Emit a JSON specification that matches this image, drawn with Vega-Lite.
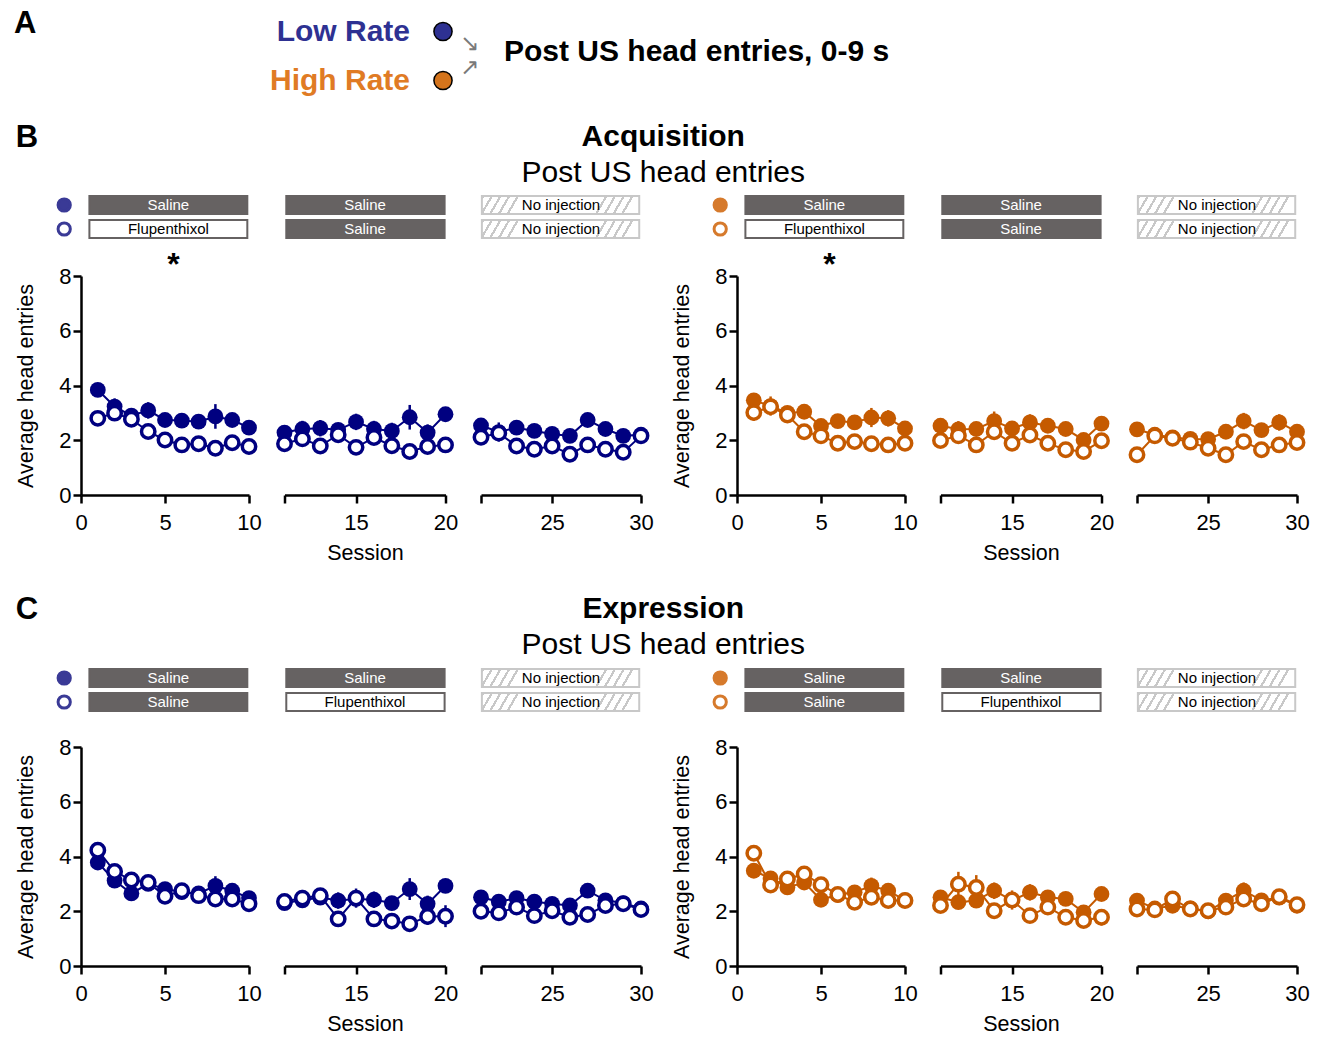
{
"$schema": "https://vega.github.io/schema/vega-lite/v6.json",
"padding": {"left": 14, "top": 7, "right": 5, "bottom": 0},
"background": "white",
"config": {
 "font": "Liberation Sans",
 "view": {"stroke": null},
 "axis": {"domainColor": "black", "domainWidth": 2.5, "tickColor": "black", "tickWidth": 2.5, "tickSize": 8, "labelFontSize": 22, "labelColor": "black", "titleFontSize": 21.5, "titleFontWeight": "normal", "titleColor": "black", "grid": false, "labelFlush": false, "labelOverlap": false},
 "axisX": {"labelPadding": 9, "titlePadding": 9},
 "axisY": {"labelPadding": 2, "titlePadding": 21},
 "title": {"color": "black", "subtitleColor": "black", "subtitleFont": "Liberation Sans"}
},
"datasets": {
 "rates": [{"rate": "Low Rate"}, {"rate": "High Rate"}],
 "boxes": [
  {"phase":"Acquisition","col":1,"row":"top","trt":"Saline"},
  {"phase":"Acquisition","col":1,"row":"bottom","trt":"Flupenthixol"},
  {"phase":"Acquisition","col":2,"row":"top","trt":"Saline"},
  {"phase":"Acquisition","col":2,"row":"bottom","trt":"Saline"},
  {"phase":"Acquisition","col":3,"row":"top","trt":"No injection"},
  {"phase":"Acquisition","col":3,"row":"bottom","trt":"No injection"},
  {"phase":"Expression","col":1,"row":"top","trt":"Saline"},
  {"phase":"Expression","col":1,"row":"bottom","trt":"Saline"},
  {"phase":"Expression","col":2,"row":"top","trt":"Saline"},
  {"phase":"Expression","col":2,"row":"bottom","trt":"Flupenthixol"},
  {"phase":"Expression","col":3,"row":"top","trt":"No injection"},
  {"phase":"Expression","col":3,"row":"bottom","trt":"No injection"}
 ],
 "sig": [{"phase":"Acquisition","col":1,"row":"star","label":"*"}],
 "acqLow": [
  {"group":"filled","session":1,"mean":3.84,"sem":0.2},{"group":"filled","session":2,"mean":3.23,"sem":0.3},{"group":"filled","session":3,"mean":2.9,"sem":0.2},{"group":"filled","session":4,"mean":3.09,"sem":0.3},{"group":"filled","session":5,"mean":2.74,"sem":0.2},{"group":"filled","session":6,"mean":2.72,"sem":0.2},{"group":"filled","session":7,"mean":2.68,"sem":0.25},{"group":"filled","session":8,"mean":2.87,"sem":0.45},{"group":"filled","session":9,"mean":2.74,"sem":0.25},{"group":"filled","session":10,"mean":2.46,"sem":0.2},
  {"group":"filled","session":11,"mean":2.28,"sem":0.2},{"group":"filled","session":12,"mean":2.41,"sem":0.3},{"group":"filled","session":13,"mean":2.44,"sem":0.3},{"group":"filled","session":14,"mean":2.38,"sem":0.25},{"group":"filled","session":15,"mean":2.67,"sem":0.3},{"group":"filled","session":16,"mean":2.41,"sem":0.3},{"group":"filled","session":17,"mean":2.34,"sem":0.3},{"group":"filled","session":18,"mean":2.84,"sem":0.45},{"group":"filled","session":19,"mean":2.28,"sem":0.3},{"group":"filled","session":20,"mean":2.95,"sem":0.2},
  {"group":"filled","session":21,"mean":2.54,"sem":0.2},{"group":"filled","session":22,"mean":2.3,"sem":0.35},{"group":"filled","session":23,"mean":2.46,"sem":0.2},{"group":"filled","session":24,"mean":2.34,"sem":0.2},{"group":"filled","session":25,"mean":2.23,"sem":0.25},{"group":"filled","session":26,"mean":2.16,"sem":0.2},{"group":"filled","session":27,"mean":2.74,"sem":0.2},{"group":"filled","session":28,"mean":2.41,"sem":0.2},{"group":"filled","session":29,"mean":2.16,"sem":0.2},{"group":"filled","session":30,"mean":2.2,"sem":0.2},
  {"group":"open","session":1,"mean":2.8,"sem":0.2},{"group":"open","session":2,"mean":2.99,"sem":0.2},{"group":"open","session":3,"mean":2.77,"sem":0.2},{"group":"open","session":4,"mean":2.32,"sem":0.2},{"group":"open","session":5,"mean":2.01,"sem":0.25},{"group":"open","session":6,"mean":1.83,"sem":0.2},{"group":"open","session":7,"mean":1.87,"sem":0.25},{"group":"open","session":8,"mean":1.71,"sem":0.2},{"group":"open","session":9,"mean":1.91,"sem":0.2},{"group":"open","session":10,"mean":1.77,"sem":0.2},
  {"group":"open","session":11,"mean":1.87,"sem":0.2},{"group":"open","session":12,"mean":2.05,"sem":0.2},{"group":"open","session":13,"mean":1.79,"sem":0.2},{"group":"open","session":14,"mean":2.2,"sem":0.2},{"group":"open","session":15,"mean":1.74,"sem":0.2},{"group":"open","session":16,"mean":2.1,"sem":0.2},{"group":"open","session":17,"mean":1.8,"sem":0.2},{"group":"open","session":18,"mean":1.59,"sem":0.2},{"group":"open","session":19,"mean":1.77,"sem":0.2},{"group":"open","session":20,"mean":1.83,"sem":0.2},
  {"group":"open","session":21,"mean":2.11,"sem":0.25},{"group":"open","session":22,"mean":2.26,"sem":0.2},{"group":"open","session":23,"mean":1.79,"sem":0.2},{"group":"open","session":24,"mean":1.67,"sem":0.2},{"group":"open","session":25,"mean":1.79,"sem":0.2},{"group":"open","session":26,"mean":1.49,"sem":0.2},{"group":"open","session":27,"mean":1.83,"sem":0.2},{"group":"open","session":28,"mean":1.67,"sem":0.2},{"group":"open","session":29,"mean":1.56,"sem":0.2},{"group":"open","session":30,"mean":2.16,"sem":0.25}
 ],
 "acqHigh": [
  {"group":"filled","session":1,"mean":3.46,"sem":0.2},{"group":"filled","session":2,"mean":3.25,"sem":0.35},{"group":"filled","session":3,"mean":3.0,"sem":0.2},{"group":"filled","session":4,"mean":3.04,"sem":0.2},{"group":"filled","session":5,"mean":2.52,"sem":0.2},{"group":"filled","session":6,"mean":2.7,"sem":0.25},{"group":"filled","session":7,"mean":2.65,"sem":0.25},{"group":"filled","session":8,"mean":2.83,"sem":0.35},{"group":"filled","session":9,"mean":2.8,"sem":0.3},{"group":"filled","session":10,"mean":2.43,"sem":0.2},
  {"group":"filled","session":11,"mean":2.53,"sem":0.25},{"group":"filled","session":12,"mean":2.4,"sem":0.3},{"group":"filled","session":13,"mean":2.41,"sem":0.2},{"group":"filled","session":14,"mean":2.7,"sem":0.35},{"group":"filled","session":15,"mean":2.43,"sem":0.25},{"group":"filled","session":16,"mean":2.65,"sem":0.3},{"group":"filled","session":17,"mean":2.53,"sem":0.2},{"group":"filled","session":18,"mean":2.41,"sem":0.2},{"group":"filled","session":19,"mean":2.01,"sem":0.2},{"group":"filled","session":20,"mean":2.61,"sem":0.2},
  {"group":"filled","session":21,"mean":2.4,"sem":0.2},{"group":"filled","session":22,"mean":2.2,"sem":0.2},{"group":"filled","session":23,"mean":2.1,"sem":0.2},{"group":"filled","session":24,"mean":2.05,"sem":0.2},{"group":"filled","session":25,"mean":2.04,"sem":0.25},{"group":"filled","session":26,"mean":2.31,"sem":0.25},{"group":"filled","session":27,"mean":2.7,"sem":0.3},{"group":"filled","session":28,"mean":2.37,"sem":0.2},{"group":"filled","session":29,"mean":2.65,"sem":0.3},{"group":"filled","session":30,"mean":2.31,"sem":0.2},
  {"group":"open","session":1,"mean":3.01,"sem":0.3},{"group":"open","session":2,"mean":3.22,"sem":0.2},{"group":"open","session":3,"mean":2.92,"sem":0.2},{"group":"open","session":4,"mean":2.31,"sem":0.2},{"group":"open","session":5,"mean":2.16,"sem":0.2},{"group":"open","session":6,"mean":1.89,"sem":0.2},{"group":"open","session":7,"mean":1.95,"sem":0.2},{"group":"open","session":8,"mean":1.87,"sem":0.2},{"group":"open","session":9,"mean":1.83,"sem":0.2},{"group":"open","session":10,"mean":1.89,"sem":0.2},
  {"group":"open","session":11,"mean":1.99,"sem":0.2},{"group":"open","session":12,"mean":2.16,"sem":0.2},{"group":"open","session":13,"mean":1.83,"sem":0.25},{"group":"open","session":14,"mean":2.31,"sem":0.2},{"group":"open","session":15,"mean":1.89,"sem":0.2},{"group":"open","session":16,"mean":2.19,"sem":0.2},{"group":"open","session":17,"mean":1.89,"sem":0.2},{"group":"open","session":18,"mean":1.65,"sem":0.2},{"group":"open","session":19,"mean":1.59,"sem":0.2},{"group":"open","session":20,"mean":1.98,"sem":0.2},
  {"group":"open","session":21,"mean":1.47,"sem":0.2},{"group":"open","session":22,"mean":2.16,"sem":0.2},{"group":"open","session":23,"mean":2.07,"sem":0.2},{"group":"open","session":24,"mean":1.93,"sem":0.2},{"group":"open","session":25,"mean":1.71,"sem":0.2},{"group":"open","session":26,"mean":1.47,"sem":0.2},{"group":"open","session":27,"mean":1.95,"sem":0.2},{"group":"open","session":28,"mean":1.65,"sem":0.2},{"group":"open","session":29,"mean":1.83,"sem":0.2},{"group":"open","session":30,"mean":1.92,"sem":0.2}
 ],
 "expLow": [
  {"group":"filled","session":1,"mean":3.78,"sem":0.2},{"group":"filled","session":2,"mean":3.12,"sem":0.2},{"group":"filled","session":3,"mean":2.65,"sem":0.2},{"group":"filled","session":4,"mean":3.0,"sem":0.2},{"group":"filled","session":5,"mean":2.81,"sem":0.2},{"group":"filled","session":6,"mean":2.7,"sem":0.2},{"group":"filled","session":7,"mean":2.65,"sem":0.2},{"group":"filled","session":8,"mean":2.93,"sem":0.35},{"group":"filled","session":9,"mean":2.75,"sem":0.25},{"group":"filled","session":10,"mean":2.48,"sem":0.25},
  {"group":"filled","session":11,"mean":2.3,"sem":0.2},{"group":"filled","session":12,"mean":2.4,"sem":0.2},{"group":"filled","session":13,"mean":2.5,"sem":0.2},{"group":"filled","session":14,"mean":2.39,"sem":0.3},{"group":"filled","session":15,"mean":2.45,"sem":0.2},{"group":"filled","session":16,"mean":2.42,"sem":0.3},{"group":"filled","session":17,"mean":2.3,"sem":0.25},{"group":"filled","session":18,"mean":2.81,"sem":0.4},{"group":"filled","session":19,"mean":2.27,"sem":0.3},{"group":"filled","session":20,"mean":2.93,"sem":0.2},
  {"group":"filled","session":21,"mean":2.51,"sem":0.2},{"group":"filled","session":22,"mean":2.35,"sem":0.2},{"group":"filled","session":23,"mean":2.48,"sem":0.2},{"group":"filled","session":24,"mean":2.35,"sem":0.2},{"group":"filled","session":25,"mean":2.27,"sem":0.2},{"group":"filled","session":26,"mean":2.21,"sem":0.2},{"group":"filled","session":27,"mean":2.75,"sem":0.2},{"group":"filled","session":28,"mean":2.4,"sem":0.2},{"group":"filled","session":29,"mean":2.3,"sem":0.2},{"group":"filled","session":30,"mean":2.1,"sem":0.2},
  {"group":"open","session":1,"mean":4.23,"sem":0.2},{"group":"open","session":2,"mean":3.45,"sem":0.2},{"group":"open","session":3,"mean":3.14,"sem":0.2},{"group":"open","session":4,"mean":3.05,"sem":0.25},{"group":"open","session":5,"mean":2.55,"sem":0.2},{"group":"open","session":6,"mean":2.75,"sem":0.2},{"group":"open","session":7,"mean":2.57,"sem":0.2},{"group":"open","session":8,"mean":2.45,"sem":0.2},{"group":"open","session":9,"mean":2.45,"sem":0.2},{"group":"open","session":10,"mean":2.27,"sem":0.2},
  {"group":"open","session":11,"mean":2.36,"sem":0.2},{"group":"open","session":12,"mean":2.48,"sem":0.3},{"group":"open","session":13,"mean":2.57,"sem":0.25},{"group":"open","session":14,"mean":1.72,"sem":0.2},{"group":"open","session":15,"mean":2.48,"sem":0.35},{"group":"open","session":16,"mean":1.72,"sem":0.2},{"group":"open","session":17,"mean":1.64,"sem":0.2},{"group":"open","session":18,"mean":1.54,"sem":0.2},{"group":"open","session":19,"mean":1.81,"sem":0.3},{"group":"open","session":20,"mean":1.82,"sem":0.4},
  {"group":"open","session":21,"mean":2.0,"sem":0.2},{"group":"open","session":22,"mean":1.94,"sem":0.2},{"group":"open","session":23,"mean":2.15,"sem":0.2},{"group":"open","session":24,"mean":1.84,"sem":0.2},{"group":"open","session":25,"mean":2.02,"sem":0.3},{"group":"open","session":26,"mean":1.78,"sem":0.2},{"group":"open","session":27,"mean":1.88,"sem":0.2},{"group":"open","session":28,"mean":2.21,"sem":0.2},{"group":"open","session":29,"mean":2.27,"sem":0.25},{"group":"open","session":30,"mean":2.06,"sem":0.2}
 ],
 "expHigh": [
  {"group":"filled","session":1,"mean":3.48,"sem":0.2},{"group":"filled","session":2,"mean":3.2,"sem":0.25},{"group":"filled","session":3,"mean":2.87,"sem":0.2},{"group":"filled","session":4,"mean":3.05,"sem":0.2},{"group":"filled","session":5,"mean":2.42,"sem":0.2},{"group":"filled","session":6,"mean":2.6,"sem":0.2},{"group":"filled","session":7,"mean":2.69,"sem":0.2},{"group":"filled","session":8,"mean":2.93,"sem":0.3},{"group":"filled","session":9,"mean":2.75,"sem":0.25},{"group":"filled","session":10,"mean":2.4,"sem":0.2},
  {"group":"filled","session":11,"mean":2.51,"sem":0.2},{"group":"filled","session":12,"mean":2.33,"sem":0.25},{"group":"filled","session":13,"mean":2.39,"sem":0.2},{"group":"filled","session":14,"mean":2.75,"sem":0.3},{"group":"filled","session":15,"mean":2.4,"sem":0.2},{"group":"filled","session":16,"mean":2.69,"sem":0.3},{"group":"filled","session":17,"mean":2.51,"sem":0.25},{"group":"filled","session":18,"mean":2.45,"sem":0.2},{"group":"filled","session":19,"mean":1.96,"sem":0.2},{"group":"filled","session":20,"mean":2.63,"sem":0.2},
  {"group":"filled","session":21,"mean":2.39,"sem":0.2},{"group":"filled","session":22,"mean":2.1,"sem":0.2},{"group":"filled","session":23,"mean":2.2,"sem":0.2},{"group":"filled","session":24,"mean":2.1,"sem":0.2},{"group":"filled","session":25,"mean":2.0,"sem":0.2},{"group":"filled","session":26,"mean":2.39,"sem":0.2},{"group":"filled","session":27,"mean":2.75,"sem":0.3},{"group":"filled","session":28,"mean":2.4,"sem":0.2},{"group":"filled","session":29,"mean":2.5,"sem":0.25},{"group":"filled","session":30,"mean":2.2,"sem":0.2},
  {"group":"open","session":1,"mean":4.12,"sem":0.2},{"group":"open","session":2,"mean":2.96,"sem":0.2},{"group":"open","session":3,"mean":3.18,"sem":0.2},{"group":"open","session":4,"mean":3.36,"sem":0.2},{"group":"open","session":5,"mean":2.97,"sem":0.2},{"group":"open","session":6,"mean":2.61,"sem":0.2},{"group":"open","session":7,"mean":2.33,"sem":0.2},{"group":"open","session":8,"mean":2.51,"sem":0.2},{"group":"open","session":9,"mean":2.39,"sem":0.2},{"group":"open","session":10,"mean":2.39,"sem":0.2},
  {"group":"open","session":11,"mean":2.21,"sem":0.2},{"group":"open","session":12,"mean":2.99,"sem":0.45},{"group":"open","session":13,"mean":2.87,"sem":0.45},{"group":"open","session":14,"mean":2.02,"sem":0.2},{"group":"open","session":15,"mean":2.41,"sem":0.35},{"group":"open","session":16,"mean":1.84,"sem":0.2},{"group":"open","session":17,"mean":2.15,"sem":0.25},{"group":"open","session":18,"mean":1.78,"sem":0.2},{"group":"open","session":19,"mean":1.66,"sem":0.2},{"group":"open","session":20,"mean":1.78,"sem":0.3},
  {"group":"open","session":21,"mean":2.08,"sem":0.2},{"group":"open","session":22,"mean":2.05,"sem":0.2},{"group":"open","session":23,"mean":2.45,"sem":0.2},{"group":"open","session":24,"mean":2.08,"sem":0.2},{"group":"open","session":25,"mean":2.02,"sem":0.2},{"group":"open","session":26,"mean":2.15,"sem":0.2},{"group":"open","session":27,"mean":2.45,"sem":0.2},{"group":"open","session":28,"mean":2.27,"sem":0.2},{"group":"open","session":29,"mean":2.53,"sem":0.25},{"group":"open","session":30,"mean":2.24,"sem":0.2}
 ]
},
"spacing": 16,
"vconcat": [
 {
  "width": 724, "height": 98,
  "data": {"name": "rates"},
  "layer": [
   {"data": {"values": [{"letter": "A"}]}, "mark": {"type": "text", "align": "left", "baseline": "alphabetic", "dx": -429, "dy": -23.5, "fontSize": 31, "fontWeight": "bold"}, "encoding": {"text": {"field": "letter"}}},
   {"mark": {"type": "text", "align": "right", "dx": -33, "fontSize": 30, "fontWeight": "bold"}, "encoding": {"y": {"field": "rate", "type": "nominal", "scale": {"domain": ["Low Rate", "High Rate"], "padding": 0.5}, "axis": null}, "text": {"field": "rate"}, "color": {"condition": {"test": "datum.rate == 'Low Rate'", "value": "#2e3192"}, "value": "#e07b24"}}},
   {"mark": {"type": "point", "shape": "circle", "filled": true, "size": 330, "stroke": "black", "strokeWidth": 1.5, "opacity": 1}, "encoding": {"y": {"field": "rate", "type": "nominal"}, "fill": {"condition": {"test": "datum.rate == 'Low Rate'", "value": "#2e3192"}, "value": "#d4741c"}}},
   {"transform": [{"filter": "datum.rate == 'Low Rate'"}], "mark": {"type": "text", "text": "↘", "font": "DejaVu Sans", "fontSize": 23, "color": "#7a7a7a", "dx": 27, "dy": 12}, "encoding": {"y": {"field": "rate", "type": "nominal"}}},
   {"transform": [{"filter": "datum.rate == 'High Rate'"}], "mark": {"type": "text", "text": "↗", "font": "DejaVu Sans", "fontSize": 23, "color": "#7a7a7a", "dx": 27, "dy": -13}, "encoding": {"y": {"field": "rate", "type": "nominal"}}},
   {"data": {"values": [{"label": "Post US head entries, 0-9 s"}]}, "mark": {"type": "text", "align": "left", "dx": 61, "dy": -4, "fontSize": 30, "fontWeight": "bold"}, "encoding": {"text": {"field": "label"}}}
  ]
 },
 {
  "spacing": 29,
  "vconcat": [
   {
    "title": {"text": "B", "anchor": "start", "frame": "bounds", "fontSize": 31, "fontWeight": "bold", "baseline": "alphabetic", "offset": -56},
    "vconcat": [{
     "title": {"text": "Acquisition", "subtitle": "Post US head entries", "anchor": "middle", "frame": "bounds", "fontSize": 30, "fontWeight": "bold", "subtitleFontSize": 30, "subtitlePadding": 6, "offset": 5},
     "spacing": 16,
     "hconcat": [
      {"columns": 3, "bounds": "flush", "align": "each", "spacing": {"row": 14, "column": 35.5}, "concat": [
        {"width": 168, "height": 66,
         "encoding": {"y": {"field": "row", "type": "nominal", "scale": {"domain": ["top","bottom","star"], "paddingInner": 0.25, "paddingOuter": 0}, "axis": null}},
         "layer": [
          {"data": {"name": "boxes"}, "transform": [{"filter": "datum.phase == 'Acquisition' && datum.col == 1"}], "layer": [
           {"mark": {"type": "rect", "stroke": "#666262", "strokeWidth": 2}, "encoding": {"x": {"datum": 0.5, "type": "quantitative", "scale": {"domain": [0, 10], "nice": false, "zero": false}, "axis": null}, "x2": {"datum": 9.9}, "fill": {"condition": {"test": "datum.trt == 'Saline'", "value": "#666262"}, "value": "white"}}},
           {"mark": {"type": "text", "fontSize": 15}, "encoding": {"x": {"datum": 5.2, "type": "quantitative"}, "text": {"field": "trt"}, "color": {"condition": {"test": "datum.trt == 'Saline'", "value": "white"}, "value": "black"}}},
           {"mark": {"type": "point", "shape": "circle", "filled": true, "stroke": "#3a3a96", "strokeWidth": 3, "size": 150, "opacity": 1}, "encoding": {"x": {"datum": -1, "type": "quantitative"}, "fill": {"condition": {"test": "datum.row == 'top'", "value": "#3a3a96"}, "value": "white"}}}
          ]},
          {"data": {"name": "sig"}, "mark": {"type": "text", "fontSize": 32, "fontWeight": "bold", "dy": 12}, "encoding": {"x": {"datum": 5.5, "type": "quantitative"}, "text": {"field": "label"}}}
         ]},
        {"width": 161, "height": 66,
         "encoding": {"y": {"field": "row", "type": "nominal", "scale": {"domain": ["top","bottom","star"], "paddingInner": 0.25, "paddingOuter": 0}, "axis": null}},
         "data": {"name": "boxes"}, "transform": [{"filter": "datum.phase == 'Acquisition' && datum.col == 2"}],
         "layer": [
          {"mark": {"type": "rect", "stroke": "#666262", "strokeWidth": 2}, "encoding": {"x": {"datum": 11.1, "type": "quantitative", "scale": {"domain": [11, 20], "nice": false, "zero": false}, "axis": null}, "x2": {"datum": 19.95}, "fill": {"condition": {"test": "datum.trt == 'Saline'", "value": "#666262"}, "value": "white"}}},
          {"mark": {"type": "text", "fontSize": 15}, "encoding": {"x": {"datum": 15.5, "type": "quantitative"}, "text": {"field": "trt"}, "color": {"condition": {"test": "datum.trt == 'Saline'", "value": "white"}, "value": "black"}}}
         ]},
        {"width": 160, "height": 66,
         "encoding": {"y": {"field": "row", "type": "nominal", "scale": {"domain": ["top","bottom","star"], "paddingInner": 0.25, "paddingOuter": 0}, "axis": null}},
         "data": {"name": "boxes"}, "transform": [{"filter": "datum.phase == 'Acquisition' && datum.col == 3"}],
         "layer": [
          {"mark": {"type": "rect", "stroke": "#c8c8c8", "strokeWidth": 2, "fill": {"gradient": "linear", "x1": 0, "y1": 0, "x2": 1, "y2": 0.066, "stops": [{"offset":0,"color":"#c8c8c8"},{"offset":0.016,"color":"#c8c8c8"},{"offset":0.016,"color":"#ffffff"},{"offset":0.055,"color":"#ffffff"},{"offset":0.055,"color":"#c8c8c8"},{"offset":0.071,"color":"#c8c8c8"},{"offset":0.071,"color":"#ffffff"},{"offset":0.11,"color":"#ffffff"},{"offset":0.11,"color":"#c8c8c8"},{"offset":0.126,"color":"#c8c8c8"},{"offset":0.126,"color":"#ffffff"},{"offset":0.165,"color":"#ffffff"},{"offset":0.165,"color":"#c8c8c8"},{"offset":0.181,"color":"#c8c8c8"},{"offset":0.181,"color":"#ffffff"},{"offset":0.22,"color":"#ffffff"},{"offset":0.22,"color":"#c8c8c8"},{"offset":0.236,"color":"#c8c8c8"},{"offset":0.236,"color":"#ffffff"},{"offset":0.78,"color":"#ffffff"},{"offset":0.78,"color":"#c8c8c8"},{"offset":0.796,"color":"#c8c8c8"},{"offset":0.796,"color":"#ffffff"},{"offset":0.835,"color":"#ffffff"},{"offset":0.835,"color":"#c8c8c8"},{"offset":0.851,"color":"#c8c8c8"},{"offset":0.851,"color":"#ffffff"},{"offset":0.89,"color":"#ffffff"},{"offset":0.89,"color":"#c8c8c8"},{"offset":0.906,"color":"#c8c8c8"},{"offset":0.906,"color":"#ffffff"},{"offset":0.945,"color":"#ffffff"},{"offset":0.945,"color":"#c8c8c8"},{"offset":0.961,"color":"#c8c8c8"},{"offset":0.961,"color":"#ffffff"},{"offset":1,"color":"#ffffff"}]}}, "encoding": {"x": {"datum": 21.05, "type": "quantitative", "scale": {"domain": [21, 30], "nice": false, "zero": false}, "axis": null}, "x2": {"datum": 29.9}}},
          {"mark": {"type": "text", "fontSize": 15, "color": "black"}, "encoding": {"x": {"datum": 25.5, "type": "quantitative"}, "text": {"field": "trt"}}}
         ]},
        {"width": 168, "height": 219,
         "encoding": {
          "x": {"field": "session", "type": "quantitative", "scale": {"domain": [0, 10], "nice": false, "zero": false}, "axis": {"values": [0, 5, 10], "title": null}},
          "y": {"field": "mean", "type": "quantitative", "scale": {"domain": [0, 8], "nice": false, "zero": false}, "axis": {"values": [0, 2, 4, 6, 8], "title": "Average head entries"}}
         },
         "layer": [
          {"data": {"values": [{"treatment": "Flupenthixol"}]}, "mark": {"type": "rect", "color": "#dfdfdf"}, "encoding": {"x": {"datum": 0, "type": "quantitative"}, "x2": {"datum": 10}, "y": {"datum": 0, "type": "quantitative"}, "y2": {"datum": 8}}},
          {"data": {"values": [{"tick": "end"}]}, "mark": {"type": "rule", "color": "black", "strokeWidth": 2.5}, "encoding": {"x": {"datum": 10, "type": "quantitative"}, "y": {"datum": 0, "type": "quantitative"}, "y2": {"datum": 0.3}}},
          {"data": {"name": "acqLow"}, "transform": [{"filter": "datum.session <= 10"}], "layer": [
           {"mark": {"type": "errorbar", "color": "#000080", "thickness": 2.5}, "encoding": {"yError": {"field": "sem"}}},
           {"mark": {"type": "line", "color": "#000080", "strokeWidth": 2}, "encoding": {"detail": {"field": "group", "type": "nominal"}}},
           {"transform": [{"filter": "datum.group == 'filled'"}], "mark": {"type": "point", "shape": "circle", "filled": true, "color": "#000080", "size": 250, "opacity": 1}},
           {"transform": [{"filter": "datum.group == 'open'"}], "mark": {"type": "point", "shape": "circle", "filled": true, "fill": "white", "stroke": "#000080", "strokeWidth": 3.5, "size": 180, "opacity": 1}}
          ]}
         ]},
        {"width": 161, "height": 219,
         "encoding": {
          "x": {"field": "session", "type": "quantitative", "scale": {"domain": [11, 20], "nice": false, "zero": false}, "axis": {"values": [11, 15, 20], "labelExpr": "datum.value == 11 ? '' : datum.label", "title": "Session"}},
          "y": {"field": "mean", "type": "quantitative", "scale": {"domain": [0, 8], "nice": false, "zero": false}, "axis": null}
         },
         "layer": [
          {"data": {"values": [{"tick": "start"}]}, "mark": {"type": "rule", "color": "black", "strokeWidth": 2.5}, "encoding": {"x": {"datum": 11, "type": "quantitative"}, "y": {"datum": 0, "type": "quantitative"}, "y2": {"datum": 0.3}}},
          {"data": {"values": [{"tick": "end"}]}, "mark": {"type": "rule", "color": "black", "strokeWidth": 2.5}, "encoding": {"x": {"datum": 20, "type": "quantitative"}, "y": {"datum": 0, "type": "quantitative"}, "y2": {"datum": 0.3}}},
          {"data": {"name": "acqLow"}, "transform": [{"filter": "datum.session >= 11 && datum.session <= 20"}], "layer": [
           {"mark": {"type": "errorbar", "color": "#000080", "thickness": 2.5}, "encoding": {"yError": {"field": "sem"}}},
           {"mark": {"type": "line", "color": "#000080", "strokeWidth": 2}, "encoding": {"detail": {"field": "group", "type": "nominal"}}},
           {"transform": [{"filter": "datum.group == 'filled'"}], "mark": {"type": "point", "shape": "circle", "filled": true, "color": "#000080", "size": 250, "opacity": 1}},
           {"transform": [{"filter": "datum.group == 'open'"}], "mark": {"type": "point", "shape": "circle", "filled": true, "fill": "white", "stroke": "#000080", "strokeWidth": 3.5, "size": 180, "opacity": 1}}
          ]}
         ]},
        {"width": 160, "height": 219,
         "encoding": {
          "x": {"field": "session", "type": "quantitative", "scale": {"domain": [21, 30], "nice": false, "zero": false}, "axis": {"values": [21, 25, 30], "labelExpr": "datum.value == 21 ? '' : datum.label", "title": null}},
          "y": {"field": "mean", "type": "quantitative", "scale": {"domain": [0, 8], "nice": false, "zero": false}, "axis": null}
         },
         "layer": [
          {"data": {"values": [{"tick": "start"}]}, "mark": {"type": "rule", "color": "black", "strokeWidth": 2.5}, "encoding": {"x": {"datum": 21, "type": "quantitative"}, "y": {"datum": 0, "type": "quantitative"}, "y2": {"datum": 0.3}}},
          {"data": {"values": [{"tick": "end"}]}, "mark": {"type": "rule", "color": "black", "strokeWidth": 2.5}, "encoding": {"x": {"datum": 30, "type": "quantitative"}, "y": {"datum": 0, "type": "quantitative"}, "y2": {"datum": 0.3}}},
          {"data": {"name": "acqLow"}, "transform": [{"filter": "datum.session >= 21"}], "layer": [
           {"mark": {"type": "errorbar", "color": "#000080", "thickness": 2.5}, "encoding": {"yError": {"field": "sem"}}},
           {"mark": {"type": "line", "color": "#000080", "strokeWidth": 2}, "encoding": {"detail": {"field": "group", "type": "nominal"}}},
           {"transform": [{"filter": "datum.group == 'filled'"}], "mark": {"type": "point", "shape": "circle", "filled": true, "color": "#000080", "size": 250, "opacity": 1}},
           {"transform": [{"filter": "datum.group == 'open'"}], "mark": {"type": "point", "shape": "circle", "filled": true, "fill": "white", "stroke": "#000080", "strokeWidth": 3.5, "size": 180, "opacity": 1}}
          ]}
         ]}
      ]},
      {"columns": 3, "bounds": "flush", "align": "each", "spacing": {"row": 14, "column": 35.5}, "concat": [
        {"width": 168, "height": 66,
         "encoding": {"y": {"field": "row", "type": "nominal", "scale": {"domain": ["top","bottom","star"], "paddingInner": 0.25, "paddingOuter": 0}, "axis": null}},
         "layer": [
          {"data": {"name": "boxes"}, "transform": [{"filter": "datum.phase == 'Acquisition' && datum.col == 1"}], "layer": [
           {"mark": {"type": "rect", "stroke": "#666262", "strokeWidth": 2}, "encoding": {"x": {"datum": 0.5, "type": "quantitative", "scale": {"domain": [0, 10], "nice": false, "zero": false}, "axis": null}, "x2": {"datum": 9.9}, "fill": {"condition": {"test": "datum.trt == 'Saline'", "value": "#666262"}, "value": "white"}}},
           {"mark": {"type": "text", "fontSize": 15}, "encoding": {"x": {"datum": 5.2, "type": "quantitative"}, "text": {"field": "trt"}, "color": {"condition": {"test": "datum.trt == 'Saline'", "value": "white"}, "value": "black"}}},
           {"mark": {"type": "point", "shape": "circle", "filled": true, "stroke": "#d67a2c", "strokeWidth": 3, "size": 150, "opacity": 1}, "encoding": {"x": {"datum": -1, "type": "quantitative"}, "fill": {"condition": {"test": "datum.row == 'top'", "value": "#d67a2c"}, "value": "white"}}}
          ]},
          {"data": {"name": "sig"}, "mark": {"type": "text", "fontSize": 32, "fontWeight": "bold", "dy": 12}, "encoding": {"x": {"datum": 5.5, "type": "quantitative"}, "text": {"field": "label"}}}
         ]},
        {"width": 161, "height": 66,
         "encoding": {"y": {"field": "row", "type": "nominal", "scale": {"domain": ["top","bottom","star"], "paddingInner": 0.25, "paddingOuter": 0}, "axis": null}},
         "data": {"name": "boxes"}, "transform": [{"filter": "datum.phase == 'Acquisition' && datum.col == 2"}],
         "layer": [
          {"mark": {"type": "rect", "stroke": "#666262", "strokeWidth": 2}, "encoding": {"x": {"datum": 11.1, "type": "quantitative", "scale": {"domain": [11, 20], "nice": false, "zero": false}, "axis": null}, "x2": {"datum": 19.95}, "fill": {"condition": {"test": "datum.trt == 'Saline'", "value": "#666262"}, "value": "white"}}},
          {"mark": {"type": "text", "fontSize": 15}, "encoding": {"x": {"datum": 15.5, "type": "quantitative"}, "text": {"field": "trt"}, "color": {"condition": {"test": "datum.trt == 'Saline'", "value": "white"}, "value": "black"}}}
         ]},
        {"width": 160, "height": 66,
         "encoding": {"y": {"field": "row", "type": "nominal", "scale": {"domain": ["top","bottom","star"], "paddingInner": 0.25, "paddingOuter": 0}, "axis": null}},
         "data": {"name": "boxes"}, "transform": [{"filter": "datum.phase == 'Acquisition' && datum.col == 3"}],
         "layer": [
          {"mark": {"type": "rect", "stroke": "#c8c8c8", "strokeWidth": 2, "fill": {"gradient": "linear", "x1": 0, "y1": 0, "x2": 1, "y2": 0.066, "stops": [{"offset":0,"color":"#c8c8c8"},{"offset":0.016,"color":"#c8c8c8"},{"offset":0.016,"color":"#ffffff"},{"offset":0.055,"color":"#ffffff"},{"offset":0.055,"color":"#c8c8c8"},{"offset":0.071,"color":"#c8c8c8"},{"offset":0.071,"color":"#ffffff"},{"offset":0.11,"color":"#ffffff"},{"offset":0.11,"color":"#c8c8c8"},{"offset":0.126,"color":"#c8c8c8"},{"offset":0.126,"color":"#ffffff"},{"offset":0.165,"color":"#ffffff"},{"offset":0.165,"color":"#c8c8c8"},{"offset":0.181,"color":"#c8c8c8"},{"offset":0.181,"color":"#ffffff"},{"offset":0.22,"color":"#ffffff"},{"offset":0.22,"color":"#c8c8c8"},{"offset":0.236,"color":"#c8c8c8"},{"offset":0.236,"color":"#ffffff"},{"offset":0.78,"color":"#ffffff"},{"offset":0.78,"color":"#c8c8c8"},{"offset":0.796,"color":"#c8c8c8"},{"offset":0.796,"color":"#ffffff"},{"offset":0.835,"color":"#ffffff"},{"offset":0.835,"color":"#c8c8c8"},{"offset":0.851,"color":"#c8c8c8"},{"offset":0.851,"color":"#ffffff"},{"offset":0.89,"color":"#ffffff"},{"offset":0.89,"color":"#c8c8c8"},{"offset":0.906,"color":"#c8c8c8"},{"offset":0.906,"color":"#ffffff"},{"offset":0.945,"color":"#ffffff"},{"offset":0.945,"color":"#c8c8c8"},{"offset":0.961,"color":"#c8c8c8"},{"offset":0.961,"color":"#ffffff"},{"offset":1,"color":"#ffffff"}]}}, "encoding": {"x": {"datum": 21.05, "type": "quantitative", "scale": {"domain": [21, 30], "nice": false, "zero": false}, "axis": null}, "x2": {"datum": 29.9}}},
          {"mark": {"type": "text", "fontSize": 15, "color": "black"}, "encoding": {"x": {"datum": 25.5, "type": "quantitative"}, "text": {"field": "trt"}}}
         ]},
        {"width": 168, "height": 219,
         "encoding": {
          "x": {"field": "session", "type": "quantitative", "scale": {"domain": [0, 10], "nice": false, "zero": false}, "axis": {"values": [0, 5, 10], "title": null}},
          "y": {"field": "mean", "type": "quantitative", "scale": {"domain": [0, 8], "nice": false, "zero": false}, "axis": {"values": [0, 2, 4, 6, 8], "title": "Average head entries"}}
         },
         "layer": [
          {"data": {"values": [{"treatment": "Flupenthixol"}]}, "mark": {"type": "rect", "color": "#dfdfdf"}, "encoding": {"x": {"datum": 0, "type": "quantitative"}, "x2": {"datum": 10}, "y": {"datum": 0, "type": "quantitative"}, "y2": {"datum": 8}}},
          {"data": {"values": [{"tick": "end"}]}, "mark": {"type": "rule", "color": "black", "strokeWidth": 2.5}, "encoding": {"x": {"datum": 10, "type": "quantitative"}, "y": {"datum": 0, "type": "quantitative"}, "y2": {"datum": 0.3}}},
          {"data": {"name": "acqHigh"}, "transform": [{"filter": "datum.session <= 10"}], "layer": [
           {"mark": {"type": "errorbar", "color": "#c55a00", "thickness": 2.5}, "encoding": {"yError": {"field": "sem"}}},
           {"mark": {"type": "line", "color": "#c55a00", "strokeWidth": 2}, "encoding": {"detail": {"field": "group", "type": "nominal"}}},
           {"transform": [{"filter": "datum.group == 'filled'"}], "mark": {"type": "point", "shape": "circle", "filled": true, "color": "#c55a00", "size": 250, "opacity": 1}},
           {"transform": [{"filter": "datum.group == 'open'"}], "mark": {"type": "point", "shape": "circle", "filled": true, "fill": "white", "stroke": "#c55a00", "strokeWidth": 3.5, "size": 180, "opacity": 1}}
          ]}
         ]},
        {"width": 161, "height": 219,
         "encoding": {
          "x": {"field": "session", "type": "quantitative", "scale": {"domain": [11, 20], "nice": false, "zero": false}, "axis": {"values": [11, 15, 20], "labelExpr": "datum.value == 11 ? '' : datum.label", "title": "Session"}},
          "y": {"field": "mean", "type": "quantitative", "scale": {"domain": [0, 8], "nice": false, "zero": false}, "axis": null}
         },
         "layer": [
          {"data": {"values": [{"tick": "start"}]}, "mark": {"type": "rule", "color": "black", "strokeWidth": 2.5}, "encoding": {"x": {"datum": 11, "type": "quantitative"}, "y": {"datum": 0, "type": "quantitative"}, "y2": {"datum": 0.3}}},
          {"data": {"values": [{"tick": "end"}]}, "mark": {"type": "rule", "color": "black", "strokeWidth": 2.5}, "encoding": {"x": {"datum": 20, "type": "quantitative"}, "y": {"datum": 0, "type": "quantitative"}, "y2": {"datum": 0.3}}},
          {"data": {"name": "acqHigh"}, "transform": [{"filter": "datum.session >= 11 && datum.session <= 20"}], "layer": [
           {"mark": {"type": "errorbar", "color": "#c55a00", "thickness": 2.5}, "encoding": {"yError": {"field": "sem"}}},
           {"mark": {"type": "line", "color": "#c55a00", "strokeWidth": 2}, "encoding": {"detail": {"field": "group", "type": "nominal"}}},
           {"transform": [{"filter": "datum.group == 'filled'"}], "mark": {"type": "point", "shape": "circle", "filled": true, "color": "#c55a00", "size": 250, "opacity": 1}},
           {"transform": [{"filter": "datum.group == 'open'"}], "mark": {"type": "point", "shape": "circle", "filled": true, "fill": "white", "stroke": "#c55a00", "strokeWidth": 3.5, "size": 180, "opacity": 1}}
          ]}
         ]},
        {"width": 160, "height": 219,
         "encoding": {
          "x": {"field": "session", "type": "quantitative", "scale": {"domain": [21, 30], "nice": false, "zero": false}, "axis": {"values": [21, 25, 30], "labelExpr": "datum.value == 21 ? '' : datum.label", "title": null}},
          "y": {"field": "mean", "type": "quantitative", "scale": {"domain": [0, 8], "nice": false, "zero": false}, "axis": null}
         },
         "layer": [
          {"data": {"values": [{"tick": "start"}]}, "mark": {"type": "rule", "color": "black", "strokeWidth": 2.5}, "encoding": {"x": {"datum": 21, "type": "quantitative"}, "y": {"datum": 0, "type": "quantitative"}, "y2": {"datum": 0.3}}},
          {"data": {"values": [{"tick": "end"}]}, "mark": {"type": "rule", "color": "black", "strokeWidth": 2.5}, "encoding": {"x": {"datum": 30, "type": "quantitative"}, "y": {"datum": 0, "type": "quantitative"}, "y2": {"datum": 0.3}}},
          {"data": {"name": "acqHigh"}, "transform": [{"filter": "datum.session >= 21"}], "layer": [
           {"mark": {"type": "errorbar", "color": "#c55a00", "thickness": 2.5}, "encoding": {"yError": {"field": "sem"}}},
           {"mark": {"type": "line", "color": "#c55a00", "strokeWidth": 2}, "encoding": {"detail": {"field": "group", "type": "nominal"}}},
           {"transform": [{"filter": "datum.group == 'filled'"}], "mark": {"type": "point", "shape": "circle", "filled": true, "color": "#c55a00", "size": 250, "opacity": 1}},
           {"transform": [{"filter": "datum.group == 'open'"}], "mark": {"type": "point", "shape": "circle", "filled": true, "fill": "white", "stroke": "#c55a00", "strokeWidth": 3.5, "size": 180, "opacity": 1}}
          ]}
         ]}
      ]}
     ]
    }]
   },
   {
    "title": {"text": "C", "anchor": "start", "frame": "bounds", "fontSize": 31, "fontWeight": "bold", "baseline": "alphabetic", "offset": -56},
    "vconcat": [{
     "title": {"text": "Expression", "subtitle": "Post US head entries", "anchor": "middle", "frame": "bounds", "fontSize": 30, "fontWeight": "bold", "subtitleFontSize": 30, "subtitlePadding": 6, "offset": 6},
     "spacing": 16,
     "hconcat": [
      {"columns": 3, "bounds": "flush", "align": "each", "spacing": {"row": 12, "column": 35.5}, "concat": [
        {"width": 168, "height": 66,
         "encoding": {"y": {"field": "row", "type": "nominal", "scale": {"domain": ["top","bottom","star"], "paddingInner": 0.25, "paddingOuter": 0}, "axis": null}},
         "data": {"name": "boxes"}, "transform": [{"filter": "datum.phase == 'Expression' && datum.col == 1"}],
         "layer": [
          {"mark": {"type": "rect", "stroke": "#666262", "strokeWidth": 2}, "encoding": {"x": {"datum": 0.5, "type": "quantitative", "scale": {"domain": [0, 10], "nice": false, "zero": false}, "axis": null}, "x2": {"datum": 9.9}, "fill": {"condition": {"test": "datum.trt == 'Saline'", "value": "#666262"}, "value": "white"}}},
          {"mark": {"type": "text", "fontSize": 15}, "encoding": {"x": {"datum": 5.2, "type": "quantitative"}, "text": {"field": "trt"}, "color": {"condition": {"test": "datum.trt == 'Saline'", "value": "white"}, "value": "black"}}},
          {"mark": {"type": "point", "shape": "circle", "filled": true, "stroke": "#3a3a96", "strokeWidth": 3, "size": 150, "opacity": 1}, "encoding": {"x": {"datum": -1, "type": "quantitative"}, "fill": {"condition": {"test": "datum.row == 'top'", "value": "#3a3a96"}, "value": "white"}}}
         ]},
        {"width": 161, "height": 66,
         "encoding": {"y": {"field": "row", "type": "nominal", "scale": {"domain": ["top","bottom","star"], "paddingInner": 0.25, "paddingOuter": 0}, "axis": null}},
         "data": {"name": "boxes"}, "transform": [{"filter": "datum.phase == 'Expression' && datum.col == 2"}],
         "layer": [
          {"mark": {"type": "rect", "stroke": "#666262", "strokeWidth": 2}, "encoding": {"x": {"datum": 11.1, "type": "quantitative", "scale": {"domain": [11, 20], "nice": false, "zero": false}, "axis": null}, "x2": {"datum": 19.95}, "fill": {"condition": {"test": "datum.trt == 'Saline'", "value": "#666262"}, "value": "white"}}},
          {"mark": {"type": "text", "fontSize": 15}, "encoding": {"x": {"datum": 15.5, "type": "quantitative"}, "text": {"field": "trt"}, "color": {"condition": {"test": "datum.trt == 'Saline'", "value": "white"}, "value": "black"}}}
         ]},
        {"width": 160, "height": 66,
         "encoding": {"y": {"field": "row", "type": "nominal", "scale": {"domain": ["top","bottom","star"], "paddingInner": 0.25, "paddingOuter": 0}, "axis": null}},
         "data": {"name": "boxes"}, "transform": [{"filter": "datum.phase == 'Expression' && datum.col == 3"}],
         "layer": [
          {"mark": {"type": "rect", "stroke": "#c8c8c8", "strokeWidth": 2, "fill": {"gradient": "linear", "x1": 0, "y1": 0, "x2": 1, "y2": 0.066, "stops": [{"offset":0,"color":"#c8c8c8"},{"offset":0.016,"color":"#c8c8c8"},{"offset":0.016,"color":"#ffffff"},{"offset":0.055,"color":"#ffffff"},{"offset":0.055,"color":"#c8c8c8"},{"offset":0.071,"color":"#c8c8c8"},{"offset":0.071,"color":"#ffffff"},{"offset":0.11,"color":"#ffffff"},{"offset":0.11,"color":"#c8c8c8"},{"offset":0.126,"color":"#c8c8c8"},{"offset":0.126,"color":"#ffffff"},{"offset":0.165,"color":"#ffffff"},{"offset":0.165,"color":"#c8c8c8"},{"offset":0.181,"color":"#c8c8c8"},{"offset":0.181,"color":"#ffffff"},{"offset":0.22,"color":"#ffffff"},{"offset":0.22,"color":"#c8c8c8"},{"offset":0.236,"color":"#c8c8c8"},{"offset":0.236,"color":"#ffffff"},{"offset":0.78,"color":"#ffffff"},{"offset":0.78,"color":"#c8c8c8"},{"offset":0.796,"color":"#c8c8c8"},{"offset":0.796,"color":"#ffffff"},{"offset":0.835,"color":"#ffffff"},{"offset":0.835,"color":"#c8c8c8"},{"offset":0.851,"color":"#c8c8c8"},{"offset":0.851,"color":"#ffffff"},{"offset":0.89,"color":"#ffffff"},{"offset":0.89,"color":"#c8c8c8"},{"offset":0.906,"color":"#c8c8c8"},{"offset":0.906,"color":"#ffffff"},{"offset":0.945,"color":"#ffffff"},{"offset":0.945,"color":"#c8c8c8"},{"offset":0.961,"color":"#c8c8c8"},{"offset":0.961,"color":"#ffffff"},{"offset":1,"color":"#ffffff"}]}}, "encoding": {"x": {"datum": 21.05, "type": "quantitative", "scale": {"domain": [21, 30], "nice": false, "zero": false}, "axis": null}, "x2": {"datum": 29.9}}},
          {"mark": {"type": "text", "fontSize": 15, "color": "black"}, "encoding": {"x": {"datum": 25.5, "type": "quantitative"}, "text": {"field": "trt"}}}
         ]},
        {"width": 168, "height": 219,
         "encoding": {
          "x": {"field": "session", "type": "quantitative", "scale": {"domain": [0, 10], "nice": false, "zero": false}, "axis": {"values": [0, 5, 10], "title": null}},
          "y": {"field": "mean", "type": "quantitative", "scale": {"domain": [0, 8], "nice": false, "zero": false}, "axis": {"values": [0, 2, 4, 6, 8], "title": "Average head entries"}}
         },
         "layer": [
          {"data": {"values": [{"tick": "end"}]}, "mark": {"type": "rule", "color": "black", "strokeWidth": 2.5}, "encoding": {"x": {"datum": 10, "type": "quantitative"}, "y": {"datum": 0, "type": "quantitative"}, "y2": {"datum": 0.3}}},
          {"data": {"name": "expLow"}, "transform": [{"filter": "datum.session <= 10"}], "layer": [
           {"mark": {"type": "errorbar", "color": "#000080", "thickness": 2.5}, "encoding": {"yError": {"field": "sem"}}},
           {"mark": {"type": "line", "color": "#000080", "strokeWidth": 2}, "encoding": {"detail": {"field": "group", "type": "nominal"}}},
           {"transform": [{"filter": "datum.group == 'filled'"}], "mark": {"type": "point", "shape": "circle", "filled": true, "color": "#000080", "size": 250, "opacity": 1}},
           {"transform": [{"filter": "datum.group == 'open'"}], "mark": {"type": "point", "shape": "circle", "filled": true, "fill": "white", "stroke": "#000080", "strokeWidth": 3.5, "size": 180, "opacity": 1}}
          ]}
         ]},
        {"width": 161, "height": 219,
         "encoding": {
          "x": {"field": "session", "type": "quantitative", "scale": {"domain": [11, 20], "nice": false, "zero": false}, "axis": {"values": [11, 15, 20], "labelExpr": "datum.value == 11 ? '' : datum.label", "title": "Session"}},
          "y": {"field": "mean", "type": "quantitative", "scale": {"domain": [0, 8], "nice": false, "zero": false}, "axis": null}
         },
         "layer": [
          {"data": {"values": [{"treatment": "Flupenthixol"}]}, "mark": {"type": "rect", "color": "#dfdfdf"}, "encoding": {"x": {"datum": 11, "type": "quantitative"}, "x2": {"datum": 20}, "y": {"datum": 0, "type": "quantitative"}, "y2": {"datum": 8}}},
          {"data": {"values": [{"tick": "start"}]}, "mark": {"type": "rule", "color": "black", "strokeWidth": 2.5}, "encoding": {"x": {"datum": 11, "type": "quantitative"}, "y": {"datum": 0, "type": "quantitative"}, "y2": {"datum": 0.3}}},
          {"data": {"values": [{"tick": "end"}]}, "mark": {"type": "rule", "color": "black", "strokeWidth": 2.5}, "encoding": {"x": {"datum": 20, "type": "quantitative"}, "y": {"datum": 0, "type": "quantitative"}, "y2": {"datum": 0.3}}},
          {"data": {"name": "expLow"}, "transform": [{"filter": "datum.session >= 11 && datum.session <= 20"}], "layer": [
           {"mark": {"type": "errorbar", "color": "#000080", "thickness": 2.5}, "encoding": {"yError": {"field": "sem"}}},
           {"mark": {"type": "line", "color": "#000080", "strokeWidth": 2}, "encoding": {"detail": {"field": "group", "type": "nominal"}}},
           {"transform": [{"filter": "datum.group == 'filled'"}], "mark": {"type": "point", "shape": "circle", "filled": true, "color": "#000080", "size": 250, "opacity": 1}},
           {"transform": [{"filter": "datum.group == 'open'"}], "mark": {"type": "point", "shape": "circle", "filled": true, "fill": "white", "stroke": "#000080", "strokeWidth": 3.5, "size": 180, "opacity": 1}}
          ]}
         ]},
        {"width": 160, "height": 219,
         "encoding": {
          "x": {"field": "session", "type": "quantitative", "scale": {"domain": [21, 30], "nice": false, "zero": false}, "axis": {"values": [21, 25, 30], "labelExpr": "datum.value == 21 ? '' : datum.label", "title": null}},
          "y": {"field": "mean", "type": "quantitative", "scale": {"domain": [0, 8], "nice": false, "zero": false}, "axis": null}
         },
         "layer": [
          {"data": {"values": [{"tick": "start"}]}, "mark": {"type": "rule", "color": "black", "strokeWidth": 2.5}, "encoding": {"x": {"datum": 21, "type": "quantitative"}, "y": {"datum": 0, "type": "quantitative"}, "y2": {"datum": 0.3}}},
          {"data": {"values": [{"tick": "end"}]}, "mark": {"type": "rule", "color": "black", "strokeWidth": 2.5}, "encoding": {"x": {"datum": 30, "type": "quantitative"}, "y": {"datum": 0, "type": "quantitative"}, "y2": {"datum": 0.3}}},
          {"data": {"name": "expLow"}, "transform": [{"filter": "datum.session >= 21"}], "layer": [
           {"mark": {"type": "errorbar", "color": "#000080", "thickness": 2.5}, "encoding": {"yError": {"field": "sem"}}},
           {"mark": {"type": "line", "color": "#000080", "strokeWidth": 2}, "encoding": {"detail": {"field": "group", "type": "nominal"}}},
           {"transform": [{"filter": "datum.group == 'filled'"}], "mark": {"type": "point", "shape": "circle", "filled": true, "color": "#000080", "size": 250, "opacity": 1}},
           {"transform": [{"filter": "datum.group == 'open'"}], "mark": {"type": "point", "shape": "circle", "filled": true, "fill": "white", "stroke": "#000080", "strokeWidth": 3.5, "size": 180, "opacity": 1}}
          ]}
         ]}
      ]},
      {"columns": 3, "bounds": "flush", "align": "each", "spacing": {"row": 12, "column": 35.5}, "concat": [
        {"width": 168, "height": 66,
         "encoding": {"y": {"field": "row", "type": "nominal", "scale": {"domain": ["top","bottom","star"], "paddingInner": 0.25, "paddingOuter": 0}, "axis": null}},
         "data": {"name": "boxes"}, "transform": [{"filter": "datum.phase == 'Expression' && datum.col == 1"}],
         "layer": [
          {"mark": {"type": "rect", "stroke": "#666262", "strokeWidth": 2}, "encoding": {"x": {"datum": 0.5, "type": "quantitative", "scale": {"domain": [0, 10], "nice": false, "zero": false}, "axis": null}, "x2": {"datum": 9.9}, "fill": {"condition": {"test": "datum.trt == 'Saline'", "value": "#666262"}, "value": "white"}}},
          {"mark": {"type": "text", "fontSize": 15}, "encoding": {"x": {"datum": 5.2, "type": "quantitative"}, "text": {"field": "trt"}, "color": {"condition": {"test": "datum.trt == 'Saline'", "value": "white"}, "value": "black"}}},
          {"mark": {"type": "point", "shape": "circle", "filled": true, "stroke": "#d67a2c", "strokeWidth": 3, "size": 150, "opacity": 1}, "encoding": {"x": {"datum": -1, "type": "quantitative"}, "fill": {"condition": {"test": "datum.row == 'top'", "value": "#d67a2c"}, "value": "white"}}}
         ]},
        {"width": 161, "height": 66,
         "encoding": {"y": {"field": "row", "type": "nominal", "scale": {"domain": ["top","bottom","star"], "paddingInner": 0.25, "paddingOuter": 0}, "axis": null}},
         "data": {"name": "boxes"}, "transform": [{"filter": "datum.phase == 'Expression' && datum.col == 2"}],
         "layer": [
          {"mark": {"type": "rect", "stroke": "#666262", "strokeWidth": 2}, "encoding": {"x": {"datum": 11.1, "type": "quantitative", "scale": {"domain": [11, 20], "nice": false, "zero": false}, "axis": null}, "x2": {"datum": 19.95}, "fill": {"condition": {"test": "datum.trt == 'Saline'", "value": "#666262"}, "value": "white"}}},
          {"mark": {"type": "text", "fontSize": 15}, "encoding": {"x": {"datum": 15.5, "type": "quantitative"}, "text": {"field": "trt"}, "color": {"condition": {"test": "datum.trt == 'Saline'", "value": "white"}, "value": "black"}}}
         ]},
        {"width": 160, "height": 66,
         "encoding": {"y": {"field": "row", "type": "nominal", "scale": {"domain": ["top","bottom","star"], "paddingInner": 0.25, "paddingOuter": 0}, "axis": null}},
         "data": {"name": "boxes"}, "transform": [{"filter": "datum.phase == 'Expression' && datum.col == 3"}],
         "layer": [
          {"mark": {"type": "rect", "stroke": "#c8c8c8", "strokeWidth": 2, "fill": {"gradient": "linear", "x1": 0, "y1": 0, "x2": 1, "y2": 0.066, "stops": [{"offset":0,"color":"#c8c8c8"},{"offset":0.016,"color":"#c8c8c8"},{"offset":0.016,"color":"#ffffff"},{"offset":0.055,"color":"#ffffff"},{"offset":0.055,"color":"#c8c8c8"},{"offset":0.071,"color":"#c8c8c8"},{"offset":0.071,"color":"#ffffff"},{"offset":0.11,"color":"#ffffff"},{"offset":0.11,"color":"#c8c8c8"},{"offset":0.126,"color":"#c8c8c8"},{"offset":0.126,"color":"#ffffff"},{"offset":0.165,"color":"#ffffff"},{"offset":0.165,"color":"#c8c8c8"},{"offset":0.181,"color":"#c8c8c8"},{"offset":0.181,"color":"#ffffff"},{"offset":0.22,"color":"#ffffff"},{"offset":0.22,"color":"#c8c8c8"},{"offset":0.236,"color":"#c8c8c8"},{"offset":0.236,"color":"#ffffff"},{"offset":0.78,"color":"#ffffff"},{"offset":0.78,"color":"#c8c8c8"},{"offset":0.796,"color":"#c8c8c8"},{"offset":0.796,"color":"#ffffff"},{"offset":0.835,"color":"#ffffff"},{"offset":0.835,"color":"#c8c8c8"},{"offset":0.851,"color":"#c8c8c8"},{"offset":0.851,"color":"#ffffff"},{"offset":0.89,"color":"#ffffff"},{"offset":0.89,"color":"#c8c8c8"},{"offset":0.906,"color":"#c8c8c8"},{"offset":0.906,"color":"#ffffff"},{"offset":0.945,"color":"#ffffff"},{"offset":0.945,"color":"#c8c8c8"},{"offset":0.961,"color":"#c8c8c8"},{"offset":0.961,"color":"#ffffff"},{"offset":1,"color":"#ffffff"}]}}, "encoding": {"x": {"datum": 21.05, "type": "quantitative", "scale": {"domain": [21, 30], "nice": false, "zero": false}, "axis": null}, "x2": {"datum": 29.9}}},
          {"mark": {"type": "text", "fontSize": 15, "color": "black"}, "encoding": {"x": {"datum": 25.5, "type": "quantitative"}, "text": {"field": "trt"}}}
         ]},
        {"width": 168, "height": 219,
         "encoding": {
          "x": {"field": "session", "type": "quantitative", "scale": {"domain": [0, 10], "nice": false, "zero": false}, "axis": {"values": [0, 5, 10], "title": null}},
          "y": {"field": "mean", "type": "quantitative", "scale": {"domain": [0, 8], "nice": false, "zero": false}, "axis": {"values": [0, 2, 4, 6, 8], "title": "Average head entries"}}
         },
         "layer": [
          {"data": {"values": [{"tick": "end"}]}, "mark": {"type": "rule", "color": "black", "strokeWidth": 2.5}, "encoding": {"x": {"datum": 10, "type": "quantitative"}, "y": {"datum": 0, "type": "quantitative"}, "y2": {"datum": 0.3}}},
          {"data": {"name": "expHigh"}, "transform": [{"filter": "datum.session <= 10"}], "layer": [
           {"mark": {"type": "errorbar", "color": "#c55a00", "thickness": 2.5}, "encoding": {"yError": {"field": "sem"}}},
           {"mark": {"type": "line", "color": "#c55a00", "strokeWidth": 2}, "encoding": {"detail": {"field": "group", "type": "nominal"}}},
           {"transform": [{"filter": "datum.group == 'filled'"}], "mark": {"type": "point", "shape": "circle", "filled": true, "color": "#c55a00", "size": 250, "opacity": 1}},
           {"transform": [{"filter": "datum.group == 'open'"}], "mark": {"type": "point", "shape": "circle", "filled": true, "fill": "white", "stroke": "#c55a00", "strokeWidth": 3.5, "size": 180, "opacity": 1}}
          ]}
         ]},
        {"width": 161, "height": 219,
         "encoding": {
          "x": {"field": "session", "type": "quantitative", "scale": {"domain": [11, 20], "nice": false, "zero": false}, "axis": {"values": [11, 15, 20], "labelExpr": "datum.value == 11 ? '' : datum.label", "title": "Session"}},
          "y": {"field": "mean", "type": "quantitative", "scale": {"domain": [0, 8], "nice": false, "zero": false}, "axis": null}
         },
         "layer": [
          {"data": {"values": [{"treatment": "Flupenthixol"}]}, "mark": {"type": "rect", "color": "#dfdfdf"}, "encoding": {"x": {"datum": 11, "type": "quantitative"}, "x2": {"datum": 20}, "y": {"datum": 0, "type": "quantitative"}, "y2": {"datum": 8}}},
          {"data": {"values": [{"tick": "start"}]}, "mark": {"type": "rule", "color": "black", "strokeWidth": 2.5}, "encoding": {"x": {"datum": 11, "type": "quantitative"}, "y": {"datum": 0, "type": "quantitative"}, "y2": {"datum": 0.3}}},
          {"data": {"values": [{"tick": "end"}]}, "mark": {"type": "rule", "color": "black", "strokeWidth": 2.5}, "encoding": {"x": {"datum": 20, "type": "quantitative"}, "y": {"datum": 0, "type": "quantitative"}, "y2": {"datum": 0.3}}},
          {"data": {"name": "expHigh"}, "transform": [{"filter": "datum.session >= 11 && datum.session <= 20"}], "layer": [
           {"mark": {"type": "errorbar", "color": "#c55a00", "thickness": 2.5}, "encoding": {"yError": {"field": "sem"}}},
           {"mark": {"type": "line", "color": "#c55a00", "strokeWidth": 2}, "encoding": {"detail": {"field": "group", "type": "nominal"}}},
           {"transform": [{"filter": "datum.group == 'filled'"}], "mark": {"type": "point", "shape": "circle", "filled": true, "color": "#c55a00", "size": 250, "opacity": 1}},
           {"transform": [{"filter": "datum.group == 'open'"}], "mark": {"type": "point", "shape": "circle", "filled": true, "fill": "white", "stroke": "#c55a00", "strokeWidth": 3.5, "size": 180, "opacity": 1}}
          ]}
         ]},
        {"width": 160, "height": 219,
         "encoding": {
          "x": {"field": "session", "type": "quantitative", "scale": {"domain": [21, 30], "nice": false, "zero": false}, "axis": {"values": [21, 25, 30], "labelExpr": "datum.value == 21 ? '' : datum.label", "title": null}},
          "y": {"field": "mean", "type": "quantitative", "scale": {"domain": [0, 8], "nice": false, "zero": false}, "axis": null}
         },
         "layer": [
          {"data": {"values": [{"tick": "start"}]}, "mark": {"type": "rule", "color": "black", "strokeWidth": 2.5}, "encoding": {"x": {"datum": 21, "type": "quantitative"}, "y": {"datum": 0, "type": "quantitative"}, "y2": {"datum": 0.3}}},
          {"data": {"values": [{"tick": "end"}]}, "mark": {"type": "rule", "color": "black", "strokeWidth": 2.5}, "encoding": {"x": {"datum": 30, "type": "quantitative"}, "y": {"datum": 0, "type": "quantitative"}, "y2": {"datum": 0.3}}},
          {"data": {"name": "expHigh"}, "transform": [{"filter": "datum.session >= 21"}], "layer": [
           {"mark": {"type": "errorbar", "color": "#c55a00", "thickness": 2.5}, "encoding": {"yError": {"field": "sem"}}},
           {"mark": {"type": "line", "color": "#c55a00", "strokeWidth": 2}, "encoding": {"detail": {"field": "group", "type": "nominal"}}},
           {"transform": [{"filter": "datum.group == 'filled'"}], "mark": {"type": "point", "shape": "circle", "filled": true, "color": "#c55a00", "size": 250, "opacity": 1}},
           {"transform": [{"filter": "datum.group == 'open'"}], "mark": {"type": "point", "shape": "circle", "filled": true, "fill": "white", "stroke": "#c55a00", "strokeWidth": 3.5, "size": 180, "opacity": 1}}
          ]}
         ]}
      ]}
     ]
    }]
   }
  ]
 }
]
}
